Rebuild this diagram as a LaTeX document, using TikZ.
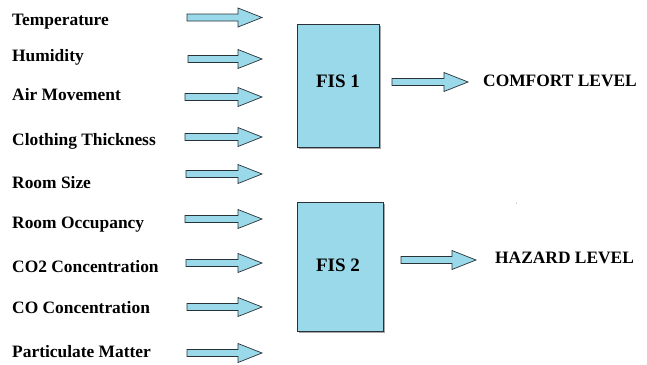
\documentclass[tikz,border=0pt]{standalone}
\usepackage{fontspec}
\setmainfont{Liberation Serif}
\definecolor{boxblue}{RGB}{153,217,234}
\definecolor{edge}{RGB}{40,50,55}
\tikzset{
  lbl/.style={anchor=base west, inner sep=0pt, font=\fontsize{17.4}{19}\selectfont\bfseries},
  outlbl/.style={anchor=west, inner sep=0pt, font=\fontsize{17.4}{19}\selectfont\bfseries},
  fis/.style={draw=edge, line width=1pt, fill=boxblue, inner sep=0pt},
  fistxt/.style={font=\fontsize{19}{21}\selectfont\bfseries},
  blk/.style={draw=edge, line width=0.7pt, fill=boxblue, line join=miter}
}
\newcommand{\blockarrow}[3]{%
  \draw[blk] (#1,#3-3.5) -- (#2-24,#3-3.5) -- (#2-24,#3-9.5) -- (#2,#3) -- (#2-24,#3+9.5) -- (#2-24,#3+3.5) -- (#1,#3+3.5) -- cycle;}
\begin{document}
\begin{tikzpicture}[x=1pt,y=-1pt]
\useasboundingbox (0,0) rectangle (647,364);
% input labels
\node[lbl] (t1) at (12,25) {Temperature};
\node[lbl] (t2) at (12,61.5) {Humidity};
\node[lbl] (t3) at (12,100) {Air Movement};
\node[lbl] (t4) at (12,145) {Clothing Thickness};
\node[lbl] (t5) at (12,188) {Room Size};
\node[lbl] (t6) at (12,228.5) {Room Occupancy};
\node[lbl] (t7) at (12,272) {CO2 Concentration};
\node[lbl] (t8) at (12,313) {CO Concentration};
\node[lbl] (t9) at (12,357) {Particulate Matter};
% input arrows
\blockarrow{187}{262}{17.5}
\blockarrow{188}{262}{59}
\blockarrow{185}{262}{97}
\blockarrow{185}{262}{137}
\blockarrow{186}{262}{174}
\blockarrow{185}{262}{219}
\blockarrow{186}{262}{263}
\blockarrow{187}{262}{307}
\blockarrow{187}{262}{353}
% FIS boxes
\draw[gray!70, line width=1.2pt] (298.5,148.5) -- (380.5,148.5) -- (380.5,25.5);
\node[fis, minimum width=82pt, minimum height=123pt] (f1) at (338,85.5) {};
\node[fistxt] (f1t) at (338,81) {FIS 1};
\draw[gray!70, line width=1.2pt] (298.5,332.5) -- (384.5,332.5) -- (384.5,203.5);
\node[fis, minimum width=86pt, minimum height=129pt] (f2) at (340,266.5) {};
\node[fistxt] (f2t) at (338,265) {FIS 2};
% outputs
\blockarrow{392}{468}{82}
\blockarrow{401}{476}{260}
\node[outlbl] (o1) at (483,81) {COMFORT LEVEL};
\node[outlbl] (o2) at (495,258) {HAZARD LEVEL};
\fill[gray] (516.5,203) circle (0.5pt);
\end{tikzpicture}
\end{document}
